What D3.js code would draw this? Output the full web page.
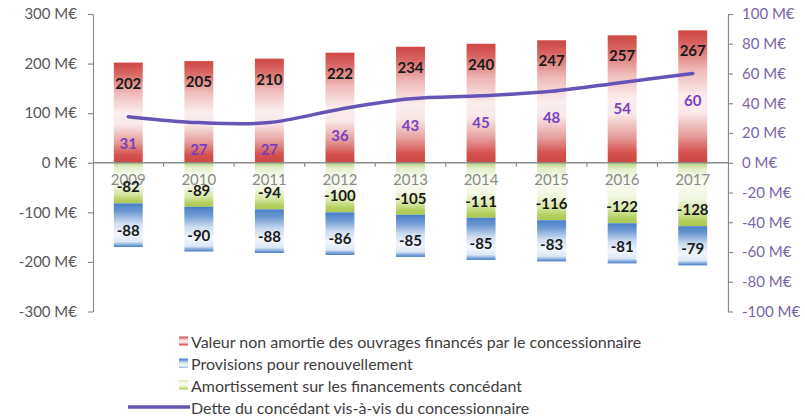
<!DOCTYPE html>
<html>
<head>
<meta charset="utf-8">
<script src="https://cdn.jsdelivr.net/npm/d3@7/dist/d3.min.js"></script>
<style>
  html, body { margin: 0; padding: 0; background: #ffffff; }
  svg { display: block; font-family: "Lato", "Open Sans", sans-serif; }
</style>
</head>
<body>
<svg id="chart" width="805" height="419"></svg>
<script>
// Categories and series (M€)
const years = ["2009", "2010", "2011", "2012", "2013", "2014", "2015", "2016", "2017"];
const valeurNonAmortie = [202, 205, 210, 222, 234, 240, 247, 257, 267];
const amortissement = [-82, -89, -94, -100, -105, -111, -116, -122, -128];
const provisions = [-88, -90, -88, -86, -85, -85, -83, -81, -79];
const detteConcedant = [31, 27, 27, 36, 43, 45, 48, 54, 60];

// Axis ticks
const leftTicks = [300, 200, 100, 0, -100, -200, -300];
const rightTicks = [100, 80, 60, 40, 20, 0, -20, -40, -60, -80, -100];

const legendLabels = [
  "Valeur non amortie des ouvrages financés par le concessionnaire",
  "Provisions pour renouvellement",
  "Amortissement sur les financements concédant",
  "Dette du concédant vis-à-vis du concessionnaire"
];

const svg = d3.select("#chart");
const plot = { left: 93, right: 728, top: 14, bottom: 311.5 };

const x = d3.scaleBand().domain(years).range([plot.left, plot.right])
  .paddingInner(0.59).paddingOuter(0.295);
const yL = d3.scaleLinear().domain([-300, 300]).range([plot.bottom, plot.top]);
const yR = d3.scaleLinear().domain([-100, 100]).range([plot.bottom, plot.top]);
const bw = x.bandwidth();
const cx = d => x(d) + bw / 2;

// Reflected gradients: colour at both ends, pale in the middle
const defs = svg.append("defs");
function gradient(id, stops) {
  const g = defs.append("linearGradient").attr("id", id)
    .attr("x1", 0).attr("y1", 0).attr("x2", 0).attr("y2", 1);
  stops.forEach(([o, c]) => g.append("stop").attr("offset", o).attr("stop-color", c));
}
gradient("gRed", [[0, "#cf4744"], [0.1, "#d76360"], [0.3, "#eeb9b8"], [0.5, "#faeeee"],
  [0.62, "#f9e8e8"], [0.8, "#e59c9a"], [0.92, "#d5524f"], [1, "#cc4844"]]);
gradient("gGreen", [[0, "#b9d47a"], [0.1, "#e3eecb"], [0.3, "#f8fbf1"], [0.55, "#f3f8e6"],
  [0.78, "#d6e6a2"], [0.92, "#b3cf5e"], [1, "#a9c757"]]);
gradient("gBlue", [[0, "#4a7fc6"], [0.18, "#6b98d2"], [0.45, "#cddcf0"], [0.7, "#f2f6fc"],
  [0.88, "#dce7f5"], [0.95, "#7fa6d9"], [1, "#4a7ec4"]]);

// Bars
const gBars = svg.append("g");
gBars.selectAll("rect.red").data(years).join("rect").attr("class", "red")
  .attr("x", d => x(d)).attr("width", bw)
  .attr("y", (d, i) => yL(valeurNonAmortie[i]))
  .attr("height", (d, i) => yL(0) - yL(valeurNonAmortie[i]))
  .attr("fill", "url(#gRed)");
gBars.selectAll("rect.green").data(years).join("rect").attr("class", "green")
  .attr("x", d => x(d)).attr("width", bw)
  .attr("y", yL(0))
  .attr("height", (d, i) => yL(amortissement[i]) - yL(0))
  .attr("fill", "url(#gGreen)");
gBars.selectAll("rect.blue").data(years).join("rect").attr("class", "blue")
  .attr("x", d => x(d)).attr("width", bw)
  .attr("y", (d, i) => yL(amortissement[i]))
  .attr("height", (d, i) => yL(amortissement[i] + provisions[i]) - yL(amortissement[i]))
  .attr("fill", "url(#gBlue)");

// Left axis
const axisColor = "#8c8c8c";
const leftAxis = svg.append("g").attr("transform", `translate(${plot.left},0)`)
  .call(d3.axisLeft(yL).tickValues(leftTicks).tickFormat(d => `${d} M€`)
    .tickSize(5).tickSizeOuter(0).tickPadding(11));
leftAxis.selectAll("path, line").attr("stroke", axisColor).attr("stroke-width", 1.2);
leftAxis.selectAll("text").attr("fill", "#595959").style("font-size", "15px")
  .style("font-family", "Lato, sans-serif");

// Right axis
const rightAxis = svg.append("g").attr("transform", `translate(${plot.right},0)`)
  .call(d3.axisRight(yR).tickValues(rightTicks).tickFormat(d => `${d} M€`)
    .tickSize(5).tickSizeOuter(0).tickPadding(9));
rightAxis.selectAll("path, line").attr("stroke", axisColor).attr("stroke-width", 1.2);
rightAxis.selectAll("text").attr("fill", "#7b66a8").style("font-size", "15px")
  .style("font-family", "Lato, sans-serif");

// Category axis at zero with ticks between categories
const gap = (x.step() - bw) / 2;
const xAxis = svg.append("g");
xAxis.append("line").attr("x1", plot.left).attr("x2", plot.right)
  .attr("y1", yL(0)).attr("y2", yL(0)).attr("stroke", axisColor).attr("stroke-width", 1.5);
xAxis.selectAll("line.tick").data(years.slice(1)).join("line").attr("class", "tick")
  .attr("x1", d => x(d) - gap).attr("x2", d => x(d) - gap)
  .attr("y1", yL(0)).attr("y2", yL(0) + 4)
  .attr("stroke", axisColor).attr("stroke-width", 1.2);
xAxis.selectAll("text").data(years).join("text")
  .attr("x", d => cx(d)).attr("y", yL(0) + 16)
  .attr("text-anchor", "middle").attr("dominant-baseline", "central")
  .attr("fill", "#8a8a8a").style("font-size", "15px").text(d => d);

// Debt line on the secondary axis
const line = d3.line().x(d => cx(d[0])).y(d => yR(d[1]))
  .curve(d3.curveCatmullRom.alpha(0.5));
svg.append("path").datum(years.map((y, i) => [y, detteConcedant[i]]))
  .attr("d", line).attr("fill", "none")
  .attr("stroke", "#6655b5").attr("stroke-width", 3.5).attr("stroke-linecap", "round");

// Value labels
const labels = svg.append("g").style("font-size", "15px").style("font-weight", "bold")
  .attr("text-anchor", "middle").attr("dominant-baseline", "central");
labels.selectAll("text.vr").data(years).join("text").attr("class", "vr")
  .attr("x", d => cx(d)).attr("y", (d, i) => yL(valeurNonAmortie[i]) + 20)
  .attr("fill", "#1a1a1a").text((d, i) => valeurNonAmortie[i]);
labels.selectAll("text.vg").data(years).join("text").attr("class", "vg")
  .attr("x", d => cx(d)).attr("y", (d, i) => yL(amortissement[i]) - 17)
  .attr("fill", "#1a1a1a").text((d, i) => amortissement[i]);
labels.selectAll("text.vb").data(years).join("text").attr("class", "vb")
  .attr("x", d => cx(d)).attr("y", (d, i) => yL(amortissement[i] + provisions[i]) - 17)
  .attr("fill", "#1a1a1a").text((d, i) => provisions[i]);
labels.selectAll("text.vd").data(years).join("text").attr("class", "vd")
  .attr("x", d => cx(d)).attr("y", (d, i) => yR(detteConcedant[i]) + 26)
  .attr("fill", "#7b3fbf").text((d, i) => detteConcedant[i]);

// Legend
const legend = svg.append("g").style("font-size", "16px");
const rowY = i => 341 + i * 22;
const swatches = ["url(#gRed)", "url(#gBlue)", "url(#gGreen)"];
swatches.forEach((fill, i) => {
  legend.append("rect").attr("x", 179).attr("y", rowY(i) - 4.5)
    .attr("width", 9).attr("height", 9).attr("fill", fill);
});
legend.append("line").attr("x1", 128).attr("x2", 190)
  .attr("y1", rowY(3)).attr("y2", rowY(3))
  .attr("stroke", "#6655b5").attr("stroke-width", 3.5);
legend.selectAll("text").data(legendLabels).join("text")
  .attr("x", 191).attr("y", (d, i) => rowY(i))
  .attr("dominant-baseline", "central").attr("fill", "#404040").text(d => d);
</script>
</body>
</html>
